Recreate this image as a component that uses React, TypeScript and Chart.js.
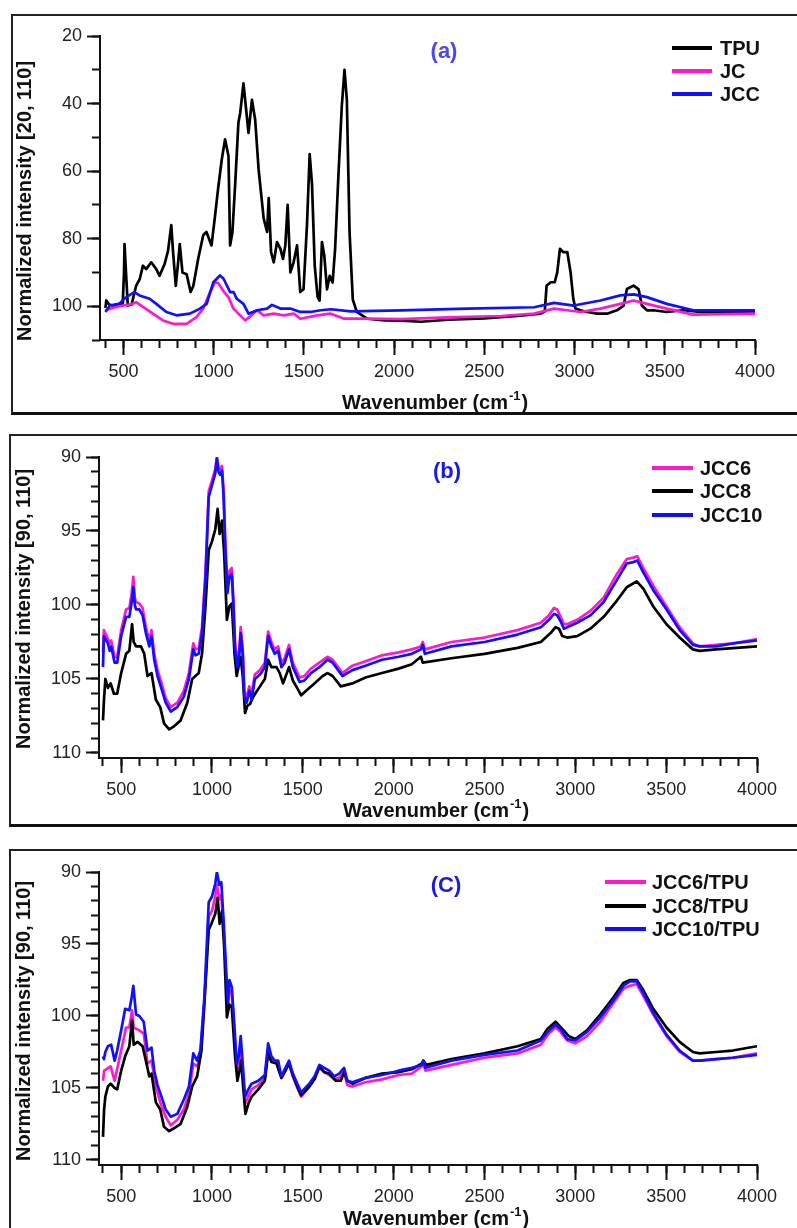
import { useEffect, useRef } from 'react';
import { Chart, registerables } from 'chart.js';

Chart.register(...registerables);

type Pt = [number, number];

// ---------- Panel (a): wavenumber (cm-1), normalized intensity ----------
const tpu: Pt[] = [
  [400, 100.5], [405, 98.3], [420, 99.5], [440, 99.8], [470, 99.6], [496, 99.3], [503, 90], [506, 81.6],
  [512, 88], [524, 99.8], [545, 99.5], [570, 94], [590, 92], [608, 88], [626, 89], [654, 87], [682, 89],
  [700, 91], [728, 87.5], [747, 83.6], [765, 76], [775, 84], [790, 94], [803, 87], [812, 81.6], [827, 90],
  [850, 90.5], [872, 95.8], [887, 94], [914, 86], [942, 79], [960, 78], [988, 82], [1006, 74], [1025, 65],
  [1045, 56.5], [1063, 50.6], [1082, 55.5], [1091, 82], [1104, 78], [1119, 64], [1137, 45.7], [1147, 42.8],
  [1165, 34], [1178, 40.8], [1193, 48.7], [1212, 38.9], [1230, 44.8], [1249, 59.5], [1277, 74], [1296, 78],
  [1305, 68], [1318, 84], [1333, 87], [1351, 81], [1370, 83], [1384, 86], [1397, 82], [1410, 70], [1425, 90],
  [1443, 87], [1462, 82], [1480, 95.8], [1498, 95], [1517, 76], [1532, 55], [1545, 64], [1560, 88],
  [1576, 97.3], [1587, 98.3], [1600, 81], [1613, 85], [1628, 95], [1643, 91], [1659, 93], [1673, 83],
  [1692, 60.5], [1710, 40.8], [1725, 30], [1738, 38.9], [1753, 78], [1771, 98], [1793, 101.7], [1850, 103.7],
  [1950, 104.2], [2040, 104.3], [2150, 104.6], [2300, 104], [2500, 103.6], [2700, 102.8], [2812, 102.2],
  [2835, 101.5], [2845, 93.9], [2868, 92.9], [2890, 92.9], [2904, 90], [2919, 83], [2937, 84], [2960, 84],
  [2978, 90], [2993, 97.8], [3005, 100.7], [3033, 101.2], [3070, 101.7], [3125, 102.2], [3180, 102.2],
  [3235, 101.2], [3272, 99.8], [3290, 94.9], [3327, 93.9], [3355, 95], [3373, 99.8], [3401, 101.2],
  [3437, 101.2], [3511, 101.7], [3603, 101.2], [3695, 101.7], [3800, 101.7], [4000, 101.7],
];

const jc: Pt[] = [
  [400, 101.2], [440, 100.5], [496, 99.8], [552, 99.3], [570, 98.8], [608, 100.2], [663, 102.2], [719, 104.2],
  [775, 105.2], [850, 105.2], [905, 103.2], [942, 100.7], [980, 95.8], [1007, 92.9], [1026, 93.2], [1054, 95.5],
  [1082, 97.3], [1110, 100.7], [1137, 102.2], [1175, 104.2], [1203, 103], [1240, 101.2], [1277, 102.7],
  [1333, 102.2], [1388, 102.7], [1444, 102.2], [1480, 103.7], [1574, 102.7], [1649, 102.2], [1723, 103.7],
  [1853, 103.7], [2040, 103.8], [2300, 103.3], [2592, 102.9], [2776, 102.2], [2886, 100.7], [2960, 101.2],
  [3033, 101.7], [3143, 100.7], [3254, 99.3], [3327, 98.3], [3401, 99.3], [3511, 100.7], [3658, 102.5],
  [4000, 102.2],
];

const jcc: Pt[] = [
  [400, 101.7], [425, 99.8], [478, 99.2], [515, 97.3], [561, 95.8], [589, 96.8], [645, 97.8], [682, 99.3],
  [738, 101.7], [794, 102.7], [868, 102.2], [924, 100.7], [961, 99.3], [998, 92.9], [1035, 90.9], [1054, 91.8],
  [1091, 95.8], [1110, 95.8], [1128, 97.8], [1165, 99.3], [1193, 102.2], [1240, 101.2], [1296, 100.7],
  [1323, 99.6], [1370, 100.7], [1425, 100.7], [1480, 101.7], [1537, 101.7], [1593, 101.2], [1649, 100.9],
  [1760, 101.5], [2039, 101.2], [2408, 100.7], [2776, 100.3], [2886, 99], [2996, 99.8], [3143, 98.3],
  [3254, 96.8], [3327, 96.5], [3401, 97.3], [3511, 99.3], [3658, 101.2], [4000, 101.2],
];

// ---------- Panel (b) ----------
const jcc6: Pt[] = [
  [400, 103.2], [405, 101.7], [427, 102.3], [437, 102.6], [445, 102.4], [464, 103.5], [478, 103.5], [500, 101.7],
  [527, 100.3], [545, 100.2], [558, 99.2], [567, 98.1], [575, 99.5], [582, 99.8], [600, 99.9], [618, 100.2],
  [636, 101.5], [655, 102.4], [667, 101.7], [682, 103.3], [700, 104.4], [718, 105.1], [745, 106.3], [773, 106.9],
  [809, 106.6], [845, 105.8], [873, 104.6], [897, 102.6], [909, 103], [927, 102.9], [945, 101.5], [964, 97.8],
  [982, 92.3], [1000, 91.6], [1018, 90.8], [1027, 90], [1036, 90.7], [1045, 90.8], [1055, 90.6], [1064, 92.3],
  [1073, 95.6], [1085, 98.8], [1096, 97.7], [1109, 97.5], [1118, 99.7], [1127, 102.6], [1140, 103.9],
  [1151, 102.9], [1158, 101.5], [1169, 102.9], [1178, 105.8], [1191, 106.3], [1205, 105.5], [1218, 106],
  [1236, 104.7], [1264, 104.4], [1291, 103.9], [1309, 101.8], [1327, 102.5], [1345, 103], [1364, 102.8],
  [1382, 103.9], [1400, 103.6], [1424, 102.7], [1445, 103.9], [1467, 104.5], [1482, 104.9], [1509, 104.8],
  [1545, 104.3], [1591, 103.9], [1636, 103.5], [1664, 103.7], [1718, 104.6], [1773, 104.1], [1845, 103.8],
  [1936, 103.4], [2027, 103.2], [2100, 103], [2150, 102.8], [2160, 102.5], [2172, 103], [2318, 102.5],
  [2500, 102.2], [2682, 101.7], [2810, 101.2], [2855, 100.7], [2882, 100.2], [2900, 100.3], [2919, 100.8],
  [2937, 101.3], [2955, 101.3], [3010, 101], [3083, 100.4], [3156, 99.5], [3229, 97.9], [3283, 96.9],
  [3320, 96.8], [3341, 96.7], [3374, 97.5], [3429, 98.7], [3502, 100.1], [3574, 101.5], [3647, 102.6],
  [3684, 102.8], [3775, 102.7], [3867, 102.6], [4000, 102.3],
];

const jcc8: Pt[] = [
  [400, 107.8], [405, 106.5], [413, 105], [427, 105.6], [442, 105.3], [460, 106], [478, 106], [500, 104.6],
  [527, 103.3], [545, 103.1], [560, 101.3], [569, 102.5], [582, 102.8], [609, 102.8], [627, 103.3], [645, 104.8],
  [667, 104.6], [691, 106.4], [715, 106.9], [736, 108], [764, 108.4], [791, 108.2], [827, 107.8], [864, 106.6],
  [891, 105], [909, 104.8], [927, 104.6], [945, 103.3], [964, 100.1], [982, 96.3], [1000, 95.7], [1018, 94.9],
  [1031, 93.5], [1042, 95.2], [1055, 94.3], [1067, 96.5], [1082, 101], [1096, 100.1], [1109, 99.9],
  [1124, 103.3], [1136, 104.8], [1147, 104.1], [1158, 103.5], [1169, 104.8], [1182, 107.3], [1195, 106.8],
  [1209, 106.7], [1227, 106.2], [1264, 105.5], [1291, 105], [1309, 103.7], [1327, 104.2], [1355, 104.2],
  [1373, 104.6], [1391, 105.3], [1424, 104.2], [1445, 105.1], [1473, 105.7], [1491, 106.1], [1518, 105.8],
  [1564, 105.3], [1609, 104.8], [1636, 104.6], [1664, 104.8], [1709, 105.5], [1773, 105.3], [1845, 104.9],
  [1936, 104.6], [2027, 104.3], [2100, 104], [2150, 103.5], [2160, 103.9], [2318, 103.6], [2500, 103.3],
  [2682, 102.9], [2810, 102.5], [2864, 101.9], [2891, 101.5], [2910, 101.6], [2928, 102.1], [2955, 102.2],
  [3010, 102.1], [3083, 101.6], [3156, 100.8], [3229, 99.7], [3283, 98.8], [3338, 98.4], [3374, 98.9],
  [3429, 100.1], [3502, 101.3], [3574, 102.2], [3647, 103], [3684, 103.1], [3775, 103], [4000, 102.8],
];

const jcc10: Pt[] = [
  [400, 104.2], [405, 102.1], [427, 102.6], [437, 103.1], [445, 102.8], [464, 103.9], [478, 103.9], [500, 102.1],
  [527, 100.8], [545, 100.8], [558, 99.8], [567, 98.8], [575, 100], [582, 100.3], [600, 100.3], [618, 100.7],
  [636, 101.9], [655, 102.8], [667, 102.1], [682, 103.7], [700, 104.8], [718, 105.5], [745, 106.6], [773, 107.2],
  [809, 106.9], [845, 106.2], [873, 105], [897, 103], [909, 103.4], [927, 103.3], [945, 101.9], [964, 98.3],
  [982, 92.7], [1000, 91.9], [1018, 91.1], [1027, 90.1], [1036, 91], [1045, 91.2], [1055, 90.9], [1064, 92.7],
  [1073, 96.1], [1085, 99.2], [1096, 98.1], [1109, 97.9], [1118, 100.1], [1127, 103], [1140, 104.2],
  [1151, 103.3], [1158, 101.9], [1169, 103.3], [1178, 106.2], [1191, 106.6], [1205, 105.8], [1218, 106.4],
  [1236, 105], [1264, 104.7], [1291, 104.2], [1309, 102.1], [1327, 102.8], [1345, 103.3], [1364, 103.1],
  [1382, 104.2], [1400, 103.9], [1424, 103], [1445, 104.2], [1467, 104.8], [1482, 105.2], [1509, 105.1],
  [1545, 104.6], [1591, 104.2], [1636, 103.7], [1664, 103.9], [1718, 104.8], [1773, 104.4], [1845, 104.1],
  [1936, 103.7], [2027, 103.5], [2100, 103.3], [2150, 103], [2160, 102.7], [2172, 103.3], [2318, 102.8],
  [2500, 102.5], [2682, 102], [2810, 101.5], [2855, 101], [2882, 100.6], [2900, 100.7], [2919, 101.1],
  [2937, 101.6], [2955, 101.5], [3010, 101.2], [3083, 100.7], [3156, 99.8], [3229, 98.3], [3283, 97.2],
  [3320, 97.1], [3341, 97], [3374, 97.8], [3429, 99], [3502, 100.3], [3574, 101.7], [3647, 102.7],
  [3684, 102.8], [3775, 102.8], [3867, 102.6], [4000, 102.4],
];

// ---------- Panel (c) ----------
const jcc6Tpu: Pt[] = [
  [400, 104.5], [407, 103.8], [442, 103.5], [464, 104.5], [500, 102.4], [527, 100.8], [545, 100.8], [560, 99.6],
  [569, 100.8], [600, 101], [624, 101.2], [645, 103.3], [667, 103.1], [691, 104.9], [718, 106.1], [745, 107],
  [773, 107.6], [809, 107.2], [845, 106.5], [873, 105.4], [897, 103.3], [918, 103.5], [936, 102.8], [958, 99.1],
  [982, 93.1], [1000, 92.7], [1018, 91.7], [1027, 90.9], [1040, 91.9], [1051, 91.6], [1064, 94], [1076, 96.8],
  [1087, 99.4], [1096, 98.2], [1109, 98.4], [1124, 101.4], [1136, 103.8], [1147, 103.3], [1158, 102.1],
  [1169, 103.8], [1182, 106.1], [1200, 105.6], [1218, 105.1], [1255, 104.8], [1291, 104.3], [1309, 102.3],
  [1327, 103.1], [1355, 103.2], [1382, 104.3], [1400, 103.9], [1424, 103.3], [1445, 104.2], [1473, 105.1],
  [1491, 105.6], [1536, 104.9], [1564, 104.4], [1591, 103.6], [1618, 103.9], [1645, 104.1], [1673, 104.4],
  [1700, 104.3], [1727, 103.9], [1745, 104.8], [1773, 104.9], [1845, 104.6], [1936, 104.4], [2027, 104.1],
  [2100, 104], [2155, 103.5], [2163, 103.3], [2175, 103.8], [2318, 103.4], [2500, 102.9], [2682, 102.6],
  [2810, 102], [2855, 101.2], [2891, 100.8], [2918, 101.1], [2955, 101.7], [3000, 101.9], [3064, 101.4],
  [3137, 100.4], [3210, 99.1], [3265, 98.1], [3301, 97.9], [3338, 97.8], [3374, 98.6], [3429, 99.9],
  [3502, 101.4], [3574, 102.5], [3647, 103.1], [3684, 103.1], [3775, 103], [3866, 102.9], [4000, 102.6],
];

const jcc8Tpu: Pt[] = [
  [400, 108.4], [406, 106.5], [413, 105.6], [427, 104.9], [442, 104.7], [464, 105], [478, 105.1], [500, 103.8],
  [522, 102.8], [545, 102.1], [560, 100.3], [569, 102], [591, 101.8], [618, 102.1], [636, 103.1], [655, 104.2],
  [667, 104], [691, 106], [715, 106.5], [736, 107.7], [764, 108], [791, 107.8], [827, 107.5], [864, 106.3],
  [891, 104.9], [918, 104.2], [942, 102.4], [960, 98.7], [982, 94], [1000, 93.5], [1018, 92.9], [1031, 91.8],
  [1042, 93.6], [1055, 92.7], [1067, 95.2], [1082, 100.1], [1096, 99.2], [1109, 99.4], [1127, 102.8],
  [1140, 104.5], [1151, 103.8], [1160, 103.1], [1169, 104.5], [1184, 106.8], [1200, 106.1], [1218, 105.6],
  [1255, 105.1], [1291, 104.5], [1309, 102.6], [1327, 103.2], [1355, 103.3], [1382, 104.3], [1400, 103.9],
  [1424, 103.3], [1445, 104.1], [1473, 105], [1491, 105.5], [1536, 104.9], [1564, 104.4], [1591, 103.5],
  [1618, 103.9], [1645, 104], [1682, 104.5], [1709, 104.5], [1727, 103.9], [1745, 104.5], [1773, 104.7],
  [1845, 104.3], [1936, 104], [2027, 103.9], [2100, 103.7], [2155, 103.3], [2163, 103.1], [2180, 103.4],
  [2318, 103], [2500, 102.6], [2682, 102.1], [2810, 101.6], [2846, 100.9], [2891, 100.4], [2928, 100.9],
  [2964, 101.4], [3000, 101.6], [3064, 101], [3137, 99.9], [3210, 98.7], [3265, 97.7], [3301, 97.5],
  [3338, 97.5], [3374, 98.2], [3429, 99.5], [3502, 100.8], [3574, 101.8], [3647, 102.5], [3684, 102.6],
  [3775, 102.5], [3866, 102.4], [4000, 102.1],
];

const jcc10Tpu: Pt[] = [
  [400, 102.8], [405, 103], [413, 102.5], [427, 102.1], [445, 102], [464, 103.1], [478, 102.4], [500, 101],
  [522, 99.5], [545, 99.6], [558, 98.7], [567, 97.9], [582, 99.9], [600, 100], [624, 100.4], [645, 102.4],
  [667, 102.2], [682, 103.8], [700, 104.8], [722, 105.6], [745, 106.5], [773, 107], [809, 106.8], [845, 105.8],
  [873, 104.9], [897, 102.6], [918, 103.1], [936, 102.4], [958, 98.7], [982, 92.1], [1000, 91.7], [1018, 90.8],
  [1027, 90], [1040, 90.9], [1051, 90.7], [1064, 93.4], [1076, 96.4], [1087, 99.1], [1096, 97.5], [1109, 98],
  [1124, 100.8], [1136, 103.3], [1147, 102.8], [1158, 101.4], [1169, 103.3], [1182, 105.6], [1200, 105.1],
  [1218, 104.7], [1255, 104.5], [1291, 104.1], [1309, 101.9], [1327, 102.8], [1345, 103.1], [1364, 103.1],
  [1382, 104.2], [1400, 103.7], [1424, 103.1], [1445, 104], [1469, 104.7], [1491, 105.3], [1536, 104.7],
  [1564, 104.2], [1591, 103.4], [1618, 103.6], [1645, 103.8], [1673, 104.2], [1700, 104], [1727, 103.6],
  [1745, 104.5], [1773, 104.6], [1845, 104.3], [1936, 104.1], [2027, 103.8], [2100, 103.6], [2155, 103.4],
  [2163, 103.1], [2175, 103.6], [2318, 103.1], [2500, 102.7], [2682, 102.4], [2810, 101.7], [2855, 101],
  [2891, 100.6], [2918, 100.9], [2955, 101.6], [3000, 101.7], [3064, 101.1], [3137, 100.1], [3210, 98.9],
  [3265, 97.9], [3301, 97.6], [3338, 97.6], [3374, 98.4], [3429, 99.8], [3502, 101.3], [3574, 102.4],
  [3647, 103.1], [3684, 103.1], [3775, 103], [3866, 102.9], [4000, 102.7],
];

// ---------- ticks ----------
const xMajorTicks = [500, 1000, 1500, 2000, 2500, 3000, 3500, 4000];
const xMinorTicks = Array.from({ length: 37 }, (_, i) => 400 + i * 100);
const yMajorTicksA = [20, 40, 60, 80, 100];
const yMinorTicksA = [20, 30, 40, 50, 60, 70, 80, 90, 100, 110];
const yMajorTicksBC = [90, 95, 100, 105, 110];
const yMinorTicksBC = Array.from({ length: 21 }, (_, i) => 90 + i);

const FONT = '"Liberation Sans", Arial, Helvetica, sans-serif';
const BLACK = '#000000';
const MAGENTA = '#ff18cc';
const BLUE = '#1010ff';

interface SeriesCfg { label: string; data: Pt[]; color: string; order: number; }
interface PanelCfg {
  top: number; height: number;
  xMin: number; yMin: number; yMax: number;
  yMajor: number[]; yMinor: number[];
  padTop: number; padRight: number; yAxisW: number; xAxisH: number;
  series: SeriesCfg[]; legendOrder: number[];
  yTitle: string; yTitleX: number; yTitleY: number;
  xTitleX: number; xTitleBase: number;
  tag: string; tagColor: string; tagX: number; tagY: number;
  legX1: number; legX2: number; legTextX: number; legYs: number[];
}

const panels: PanelCfg[] = [
  {
    top: 14, height: 398, xMin: 370, yMin: 20, yMax: 110,
    yMajor: yMajorTicksA, yMinor: yMinorTicksA,
    padTop: 22, padRight: 42, yAxisW: 100, xAxisH: 72,
    series: [
      { label: 'TPU', data: tpu, color: BLACK, order: 2 },
      { label: 'JC', data: jc, color: MAGENTA, order: 1 },
      { label: 'JCC', data: jcc, color: BLUE, order: 0 },
    ],
    legendOrder: [0, 1, 2],
    yTitle: 'Normalized intensity [20, 110]', yTitleX: 25, yTitleY: 187,
    xTitleX: 342, xTitleBase: 395,
    tag: '(a)', tagColor: '#4848ee', tagX: 444, tagY: 38,
    legX1: 672, legX2: 712, legTextX: 720, legYs: [34, 57, 80],
  },
  {
    top: 434, height: 392, xMin: 378, yMin: 90, yMax: 110.34,
    yMajor: yMajorTicksBC, yMinor: yMinorTicksBC,
    padTop: 23, padRight: 40, yAxisW: 99, xAxisH: 68,
    series: [
      { label: 'JCC6', data: jcc6, color: MAGENTA, order: 1 },
      { label: 'JCC8', data: jcc8, color: BLACK, order: 2 },
      { label: 'JCC10', data: jcc10, color: BLUE, order: 0 },
    ],
    legendOrder: [0, 1, 2],
    yTitle: 'Normalized intensity [90, 110]', yTitleX: 24, yTitleY: 175,
    xTitleX: 343, xTitleBase: 383,
    tag: '(b)', tagColor: '#1a1ae8', tagX: 447, tagY: 38,
    legX1: 652, legX2: 693, legTextX: 700, legYs: [34, 57, 81],
  },
  {
    top: 849, height: 379, xMin: 378, yMin: 90, yMax: 110.35,
    yMajor: yMajorTicksBC, yMinor: yMinorTicksBC,
    padTop: 23, padRight: 40, yAxisW: 99, xAxisH: 63,
    series: [
      { label: 'JCC6/TPU', data: jcc6Tpu, color: MAGENTA, order: 2 },
      { label: 'JCC8/TPU', data: jcc8Tpu, color: BLACK, order: 1 },
      { label: 'JCC10/TPU', data: jcc10Tpu, color: BLUE, order: 0 },
    ],
    legendOrder: [0, 1, 2],
    yTitle: 'Normalized intensity [90, 110]', yTitleX: 24, yTitleY: 172,
    xTitleX: 343, xTitleBase: 376,
    tag: '(C)', tagColor: '#1a1ae8', tagX: 446, tagY: 37,
    legX1: 605, legX2: 646, legTextX: 652, legYs: [33, 57, 80],
  },
];

const AXIS = '#111111';
const TICKTXT = '#222222';

function Panel({ cfg }: { cfg: PanelCfg }) {
  const ref = useRef<HTMLCanvasElement | null>(null);
  useEffect(() => {
    const canvas = ref.current;
    if (!canvas) return;
    const annot = {
      id: 'annot',
      afterDraw(chart: any) {
        const ctx: CanvasRenderingContext2D = chart.ctx;
        // y title
        ctx.save();
        ctx.translate(cfg.yTitleX, cfg.yTitleY);
        ctx.rotate(-Math.PI / 2);
        ctx.font = `bold 20px ${FONT}`;
        ctx.fillStyle = '#111';
        ctx.textAlign = 'center';
        ctx.textBaseline = 'middle';
        ctx.fillText(cfg.yTitle, 0, 0);
        ctx.restore();
        // x title with superscript
        ctx.save();
        ctx.fillStyle = '#111';
        ctx.textBaseline = 'alphabetic';
        ctx.textAlign = 'left';
        ctx.font = `bold 20px ${FONT}`;
        const main = 'Wavenumber (cm';
        ctx.fillText(main, cfg.xTitleX, cfg.xTitleBase);
        let x = cfg.xTitleX + ctx.measureText(main).width;
        ctx.font = `bold 13px ${FONT}`;
        ctx.fillText('-1', x + 1, cfg.xTitleBase - 9);
        x += ctx.measureText('-1').width + 2;
        ctx.font = `bold 20px ${FONT}`;
        ctx.fillText(')', x, cfg.xTitleBase);
        ctx.restore();
        // panel tag
        ctx.save();
        ctx.font = `bold 22px ${FONT}`;
        ctx.fillStyle = cfg.tagColor;
        ctx.textAlign = 'center';
        ctx.textBaseline = 'middle';
        ctx.fillText(cfg.tag, cfg.tagX, cfg.tagY);
        ctx.restore();
        // legend
        ctx.save();
        cfg.legendOrder.forEach((si, i) => {
          const s = cfg.series[si];
          const y = cfg.legYs[i];
          ctx.strokeStyle = s.color;
          ctx.lineWidth = 4;
          ctx.lineCap = 'butt';
          ctx.beginPath();
          ctx.moveTo(cfg.legX1, y);
          ctx.lineTo(cfg.legX2, y);
          ctx.stroke();
          ctx.font = `bold 20px ${FONT}`;
          ctx.fillStyle = '#111';
          ctx.textAlign = 'left';
          ctx.textBaseline = 'middle';
          ctx.fillText(s.label, cfg.legTextX, y + 1);
        });
        ctx.restore();
      },
    };

    const tickFont = { family: FONT, size: 18 };
    const chart = new Chart(canvas, {
      type: 'line',
      data: {
        datasets: cfg.series.map((s) => ({
          label: s.label,
          data: s.data.map(([x, y]) => ({ x, y })),
          borderColor: s.color,
          backgroundColor: s.color,
          borderWidth: 2.7,
          pointRadius: 0,
          tension: 0,
          fill: false,
          order: s.order,
          xAxisID: 'x',
          yAxisID: 'y',
          borderJoinStyle: 'round' as const,
        })),
      },
      options: {
        animation: false,
        responsive: false,
        maintainAspectRatio: false,
        events: [],
        layout: { padding: { top: cfg.padTop, right: cfg.padRight, bottom: 0, left: 0 } },
        plugins: { legend: { display: false }, tooltip: { enabled: false } },
        scales: {
          x: {
            type: 'linear', position: 'bottom', min: cfg.xMin, max: 4000, weight: 0,
            afterBuildTicks: (s: any) => { s.ticks = xMajorTicks.map((v) => ({ value: v })); },
            afterFit: (s: any) => { s.height = cfg.xAxisH; },
            ticks: {
              autoSkip: false, maxRotation: 0, minRotation: 0, padding: 6, color: TICKTXT, font: tickFont,
              callback: (v: any) => String(v),
            },
            grid: { drawOnChartArea: false, drawTicks: true, tickLength: 15, tickWidth: 2, tickColor: AXIS },
            border: { display: true, color: AXIS, width: 2 },
          },
          xm: {
            type: 'linear', position: 'bottom', min: cfg.xMin, max: 4000, weight: -10,
            afterBuildTicks: (s: any) => { s.ticks = xMinorTicks.map((v) => ({ value: v })); },
            afterFit: (s: any) => { s.height = 0; },
            ticks: { display: false, autoSkip: false },
            grid: { drawOnChartArea: false, drawTicks: true, tickLength: 8, tickWidth: 2, tickColor: AXIS },
            border: { display: false },
          },
          y: {
            type: 'linear', position: 'left', min: cfg.yMin, max: cfg.yMax, reverse: true, weight: 0,
            afterBuildTicks: (s: any) => { s.ticks = cfg.yMajor.map((v) => ({ value: v })); },
            afterFit: (s: any) => { s.width = cfg.yAxisW; },
            ticks: { autoSkip: false, padding: 5, color: TICKTXT, font: tickFont, callback: (v: any) => String(v) },
            grid: { drawOnChartArea: false, drawTicks: true, tickLength: 13, tickWidth: 2, tickColor: AXIS },
            border: { display: true, color: AXIS, width: 2 },
          },
          ym: {
            type: 'linear', position: 'left', min: cfg.yMin, max: cfg.yMax, reverse: true, weight: -10,
            afterBuildTicks: (s: any) => { s.ticks = cfg.yMinor.map((v) => ({ value: v })); },
            afterFit: (s: any) => { s.width = 0; },
            ticks: { display: false, autoSkip: false },
            grid: { drawOnChartArea: false, drawTicks: true, tickLength: 8, tickWidth: 2, tickColor: AXIS },
            border: { display: false },
          },
        },
      } as any,
      plugins: [annot],
    });
    return () => chart.destroy();
  }, [cfg]);
  return (
    <canvas
      ref={ref}
      width={797}
      height={cfg.height}
      style={{ position: 'absolute', left: 0, top: cfg.top, width: 797, height: cfg.height }}
    />
  );
}

const frameBase: React.CSSProperties = {
  position: 'absolute',
  boxSizing: 'border-box',
  width: 820,
  borderTop: '2px solid #222',
  borderLeft: '2px solid #222',
  borderBottom: '3px solid #111',
};

export default function App() {
  return (
    <div
      style={{
        position: 'absolute', left: 0, top: 0, width: 797, height: 1228,
        overflow: 'hidden', background: '#ffffff',
      }}
    >
      <div style={{ ...frameBase, left: 11, top: 14, height: 401 }} />
      <div style={{ ...frameBase, left: 9, top: 434, height: 393 }} />
      <div style={{ ...frameBase, left: 9, top: 849, height: 400, borderBottom: 'none' }} />
      {panels.map((p, i) => (
        <Panel key={i} cfg={p} />
      ))}
    </div>
  );
}
